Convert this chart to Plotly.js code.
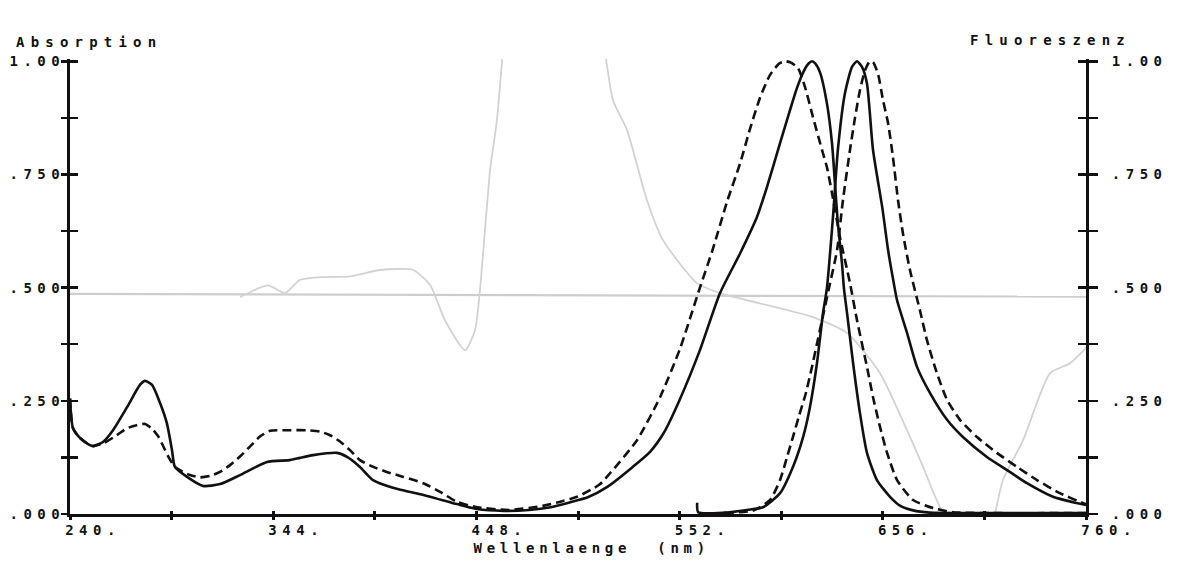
<!DOCTYPE html>
<html>
<head>
<meta charset="utf-8">
<script src="https://cdn.plot.ly/plotly-3.0.1.min.js"></script>
<style>
  html, body { margin: 0; padding: 0; background: #ffffff; }
  #chart { width: 1192px; height: 571px; }
  .xtick text, .ytick text, .y2tick text { letter-spacing: 5.5px; }
  .annotation-text { letter-spacing: 6.2px; }
  g.annotation[data-index="2"] .annotation-text { letter-spacing: 4.7px; }
</style>
</head>
<body>
<div id="chart"></div>
<script>
// ---- Data (wavelength in nm, normalised intensity) ----
const absSolidWl = [240, 241.5, 245.1, 250.2, 251.8, 256.9, 262.0, 269.2, 275.8, 278.4, 282.0, 286.1, 289.6, 292.2, 293.7, 299.9, 308.1, 316.8, 327.0, 340.8, 352.6, 357.7, 364.4, 376.7, 381.8, 388.4, 395.1, 405.3, 422.7, 438, 448.3, 462, 475, 486, 496, 505, 515, 528, 537, 544, 552, 562.4, 572.7, 583, 591.6, 596.7, 603.4, 608.5, 612, 615.2, 618, 619.8, 621.5, 623.9, 627.4, 630, 631.5, 633, 635.1, 636.1, 637.7, 640.8, 644.3, 647.9, 653, 659.7, 665, 671.5, 680, 700, 760];
const absSolid   = [0.255, 0.19, 0.168, 0.152, 0.150, 0.159, 0.185, 0.236, 0.285, 0.294, 0.285, 0.245, 0.200, 0.141, 0.104, 0.082, 0.062, 0.066, 0.086, 0.115, 0.119, 0.124, 0.130, 0.135, 0.126, 0.104, 0.075, 0.058, 0.040, 0.022, 0.011, 0.007, 0.009, 0.015, 0.026, 0.037, 0.060, 0.104, 0.138, 0.18, 0.252, 0.362, 0.488, 0.576, 0.656, 0.722, 0.819, 0.892, 0.94, 0.975, 0.995, 1.0, 0.995, 0.975, 0.907, 0.819, 0.731, 0.642, 0.554, 0.499, 0.444, 0.333, 0.223, 0.135, 0.075, 0.038, 0.018, 0.008, 0.003, 0.002, 0.002];

const absDashWl = [240, 241.5, 245.1, 250.2, 252, 257.0, 263.9, 269.0, 274.1, 278.4, 281.8, 285.2, 287.8, 290.3, 293.7, 301.4, 306.5, 311.7, 316.8, 321.9, 327.0, 332.1, 337.2, 342.4, 350.9, 361.1, 368.0, 373.1, 378.2, 383.3, 388.4, 395.2, 402.1, 410.6, 420.8, 429.4, 438, 448.3, 465, 482, 490, 499.5, 511, 516.4, 530.2, 542, 552.2, 562.4, 569, 576.3, 583, 588, 593.2, 598.3, 603, 606, 609, 612.6, 616.2, 620.3, 624.9, 627.4, 630, 634.1, 639.2, 642.8, 647.9, 651, 654.6, 658.2, 663.3, 671.5, 681.7, 692, 710, 760];
const absDash   = [0.255, 0.19, 0.168, 0.152, 0.150, 0.156, 0.174, 0.189, 0.196, 0.199, 0.189, 0.171, 0.149, 0.127, 0.104, 0.086, 0.081, 0.084, 0.093, 0.108, 0.127, 0.149, 0.171, 0.184, 0.185, 0.185, 0.182, 0.174, 0.160, 0.141, 0.119, 0.104, 0.093, 0.082, 0.068, 0.049, 0.027, 0.015, 0.009, 0.018, 0.026, 0.038, 0.065, 0.09, 0.163, 0.258, 0.365, 0.50, 0.585, 0.69, 0.775, 0.85, 0.92, 0.97, 0.995, 1.0, 0.997, 0.985, 0.943, 0.876, 0.804, 0.766, 0.709, 0.611, 0.51, 0.428, 0.325, 0.258, 0.192, 0.135, 0.075, 0.031, 0.013, 0.004, 0.002, 0.002];

const fluSolidWl = [561, 561.5, 575, 586.5, 594.7, 603.4, 610, 615.2, 618.7, 622.3, 625.4, 627.4, 630.5, 633, 636.6, 640.2, 642.8, 645.4, 647.9, 651, 655.8, 658.7, 661.2, 663.3, 668.4, 673.5, 680.2, 688.9, 697, 709.3, 719.6, 729.8, 743.1, 753.4, 760];
const fluSolid   = [0.025, 0.004, 0.003, 0.009, 0.015, 0.046, 0.104, 0.17, 0.236, 0.333, 0.444, 0.499, 0.656, 0.804, 0.929, 0.987, 1.0, 0.987, 0.951, 0.804, 0.675, 0.583, 0.52, 0.472, 0.40, 0.325, 0.267, 0.208, 0.17, 0.126, 0.097, 0.068, 0.038, 0.026, 0.02];

const fluDashWl = [575, 590, 598.3, 603.4, 607, 610, 613, 616.5, 619.5, 622.5, 625.5, 628.5, 632.6, 635.6, 639.2, 641.8, 644.3, 646.9, 649.4, 651, 653.5, 656.1, 658.7, 661.2, 663.8, 666.3, 669.9, 675, 678.6, 683.7, 688.9, 695.5, 704.2, 714.4, 724.7, 734.9, 746.7, 758.5, 760];
const fluDash   = [0.002, 0.008, 0.031, 0.075, 0.126, 0.17, 0.215, 0.265, 0.32, 0.38, 0.44, 0.5, 0.583, 0.693, 0.804, 0.876, 0.936, 0.98, 1.0, 0.998, 0.973, 0.914, 0.863, 0.788, 0.693, 0.62, 0.539, 0.45, 0.384, 0.311, 0.252, 0.208, 0.17, 0.135, 0.104, 0.075, 0.046, 0.024, 0.022];

// faint bleed-through trace from the reverse side of the scanned sheet
const bleedWl  = [327.0, 341.3, 350.0, 357.7, 368.0, 383.3, 398.7, 415.6, 424.3, 431.9, 442.2, 447.3, 449.8, 455.0, 458.5, 462.6, 465.2, 507.7, 517.9, 525.1, 535.3, 543.5, 560.9, 572.7, 620.3, 637.7, 654.6, 668.4, 676.6, 685.3, 695.5, 708.3, 717.5, 727.8, 741.6, 751.8, 760.5];
const bleedVal = [0.479, 0.505, 0.488, 0.517, 0.523, 0.525, 0.539, 0.539, 0.506, 0.428, 0.362, 0.406, 0.494, 0.759, 0.87, 1.068, 1.135, 1.108, 0.914, 0.848, 0.693, 0.605, 0.51, 0.488, 0.435, 0.40, 0.311, 0.185, 0.104, 0.015, -0.046, -0.068, 0.075, 0.163, 0.311, 0.333, 0.369];
const bleedBaseWl  = [240, 760];
const bleedBaseVal = [0.486, 0.480];

// axis ticks
const xTickVals = [240, 292, 344, 396, 448, 500, 552, 604, 656, 708, 760];
const xTickText = ['240.', '', '344.', '', '448.', '', '552.', '', '656.', '', '760.'];
const yTickVals = [0, 0.125, 0.25, 0.375, 0.5, 0.625, 0.75, 0.875, 1.0];
const yTickText = ['.000', '', '.250', '', '.500', '', '.750', '', '1.00'];

const INK = '#111111';
const FONT = {family: 'DejaVu Sans Mono', size: 14, color: INK, weight: 'bold'};

const traces = [
  {x: bleedBaseWl, y: bleedBaseVal, mode: 'lines', line: {color: '#cdcdcd', width: 2.2}, hoverinfo: 'skip'},
  {x: bleedWl, y: bleedVal, mode: 'lines', line: {color: '#d2d2d2', width: 1.8, shape: 'spline', smoothing: 0.6}, hoverinfo: 'skip'},
  {x: absSolidWl, y: absSolid, name: 'Absorption', mode: 'lines', line: {color: INK, width: 2.6, shape: 'spline', smoothing: 0.6}},
  {x: absDashWl, y: absDash, name: 'Absorption (2)', mode: 'lines', line: {color: INK, width: 2.6, dash: '9px,5px', shape: 'spline', smoothing: 0.6}},
  {x: fluSolidWl, y: fluSolid, name: 'Fluoreszenz', yaxis: 'y2', mode: 'lines', line: {color: INK, width: 2.6, shape: 'spline', smoothing: 0.6}},
  {x: fluDashWl, y: fluDash, name: 'Fluoreszenz (2)', yaxis: 'y2', mode: 'lines', line: {color: INK, width: 2.6, dash: '9px,5px', shape: 'spline', smoothing: 0.6}},
  // empty helpers so the crossing (inside) tick marks are drawn
  {x: [], y: [], xaxis: 'x2', yaxis: 'y3', hoverinfo: 'skip'},
  {x: [], y: [], xaxis: 'x2', yaxis: 'y4', hoverinfo: 'skip'}
];

const yBase = {
  range: [0, 1.005], tickvals: yTickVals, ticktext: yTickText,
  showgrid: false, zeroline: false, fixedrange: true,
  tickcolor: INK, tickwidth: 2.5, tickfont: FONT
};

const layout = {
  width: 1192, height: 571,
  margin: {l: 70, r: 106, t: 59, b: 57},
  paper_bgcolor: '#ffffff', plot_bgcolor: '#ffffff',
  showlegend: false,
  font: FONT,
  xaxis: {
    range: [240, 760], tickvals: xTickVals, ticktext: xTickText,
    ticks: 'outside', ticklen: 3, tickwidth: 3, tickcolor: INK,
    showline: true, linewidth: 3, linecolor: INK,
    showgrid: false, zeroline: false, fixedrange: true,
    ticklabelshift: 23, ticklabelstandoff: -2, tickfont: FONT
  },
  xaxis2: {
    overlaying: 'x', anchor: 'y', side: 'bottom', range: [240, 760], tickvals: xTickVals,
    ticks: 'inside', ticklen: 3, tickwidth: 3, tickcolor: INK,
    showticklabels: false, showline: false, showgrid: false, zeroline: false, fixedrange: true
  },
  yaxis: Object.assign({}, yBase, {
    side: 'left', ticks: 'outside', ticklen: 6, ticklabelstandoff: -7,
    showline: true, linewidth: 3, linecolor: INK
  }),
  yaxis2: Object.assign({}, yBase, {
    overlaying: 'y', side: 'right', anchor: 'x', ticks: 'outside', ticklen: 9, ticklabelstandoff: 11,
    showline: true, linewidth: 3, linecolor: INK
  }),
  yaxis3: Object.assign({}, yBase, {
    overlaying: 'y', side: 'left', anchor: 'x2', ticks: 'inside', ticklen: 8,
    showticklabels: false, showline: false
  }),
  yaxis4: Object.assign({}, yBase, {
    overlaying: 'y', side: 'right', anchor: 'x2', ticks: 'inside', ticklen: 8,
    showticklabels: false, showline: false
  }),
  annotations: [
    {text: 'Absorption', xref: 'paper', yref: 'paper', x: -0.0551, y: 1.037, xanchor: 'left', yanchor: 'middle', showarrow: false, font: FONT},
    {text: 'Fluoreszenz', xref: 'paper', yref: 'paper', x: 0.8839, y: 1.042, xanchor: 'left', yanchor: 'middle', showarrow: false, font: FONT},
    {text: 'Wellenlaenge\u00a0 (nm)', xref: 'paper', yref: 'paper', x: 0.513, y: -0.0747, xanchor: 'center', yanchor: 'middle', showarrow: false, font: FONT}
  ]
};

Plotly.newPlot('chart', traces, layout, {staticPlot: true, displayModeBar: false});
</script>
</body>
</html>
